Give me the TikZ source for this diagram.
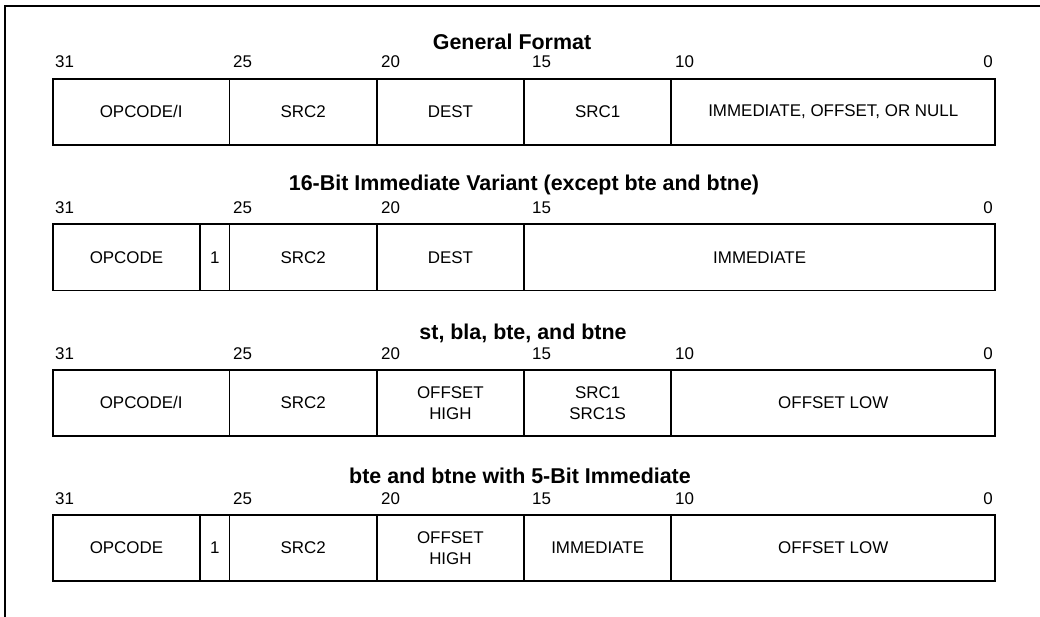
\documentclass[tikz,border=0pt]{standalone}
\usepackage{fontspec}
\setmainfont{Liberation Sans}
\tikzset{
  fieldbox/.style={draw, line width=1.7bp, minimum height=66bp, inner sep=0pt, align=center,
    font=\fontsize{17}{21}\selectfont},
  bitnum/.style={inner sep=0pt, font=\fontsize{17}{20}\selectfont},
  rowtitle/.style={inner sep=0pt, anchor=base, font=\bfseries\fontsize{21.5}{24}\selectfont},
  frameline/.style={line width=1.7bp},
}
\newcommand\bitfield[5]{% name, top y, msb, lsb, text
  \pgfmathsetmacro\bfx{52+(31-#3)*29.45}%
  \pgfmathsetmacro\bfw{(#3-#4+1)*29.45}%
  \node[fieldbox, minimum width=\bfw bp, anchor=north west] (#1) at (\bfx,#2) {#5};%
}
\newcommand\bitnums[2]{% prefix, baseline y ; set 31 25 20 15 0
  \node[bitnum, anchor=base west] (#1n31) at (55,#2) {31};
  \node[bitnum, anchor=base west] (#1n25) at (233,#2) {25};
  \node[bitnum, anchor=base west] (#1n20) at (381,#2) {20};
  \node[bitnum, anchor=base west] (#1n15) at (532,#2) {15};
  \node[bitnum, anchor=base east] (#1n0) at (993,#2) {0};
}
\begin{document}
\begin{tikzpicture}[x=1bp,y=-1bp]
\useasboundingbox (0,0) rectangle (1040,617);
% frame (top and left edges)
\draw[frameline] (5,617) -- (5,6) -- (1040,6);

% ---- Row 1: General Format
\node[rowtitle] (t1) at (512,50) {General Format};
\bitnums{a}{68}
\node[bitnum, anchor=base west] (an10) at (675,68) {10};
\bitfield{a1}{78}{31}{26}{OPCODE/I}
\bitfield{a2}{78}{25}{21}{SRC2}
\bitfield{a3}{78}{20}{16}{DEST}
\bitfield{a4}{78}{15}{11}{SRC1}
\bitfield{a5}{78}{10}{0}{IMMEDIATE, OFFSET, OR NULL}

% ---- Row 2: 16-Bit Immediate Variant
\node[rowtitle] (t2) at (524,191) {16-Bit Immediate Variant (except bte and btne)};
\bitnums{b}{213.5}
\bitfield{b1}{223.5}{31}{27}{OPCODE}
\bitfield{b2}{223.5}{26}{26}{1}
\bitfield{b3}{223.5}{25}{21}{SRC2}
\bitfield{b4}{223.5}{20}{16}{DEST}
\bitfield{b5}{223.5}{15}{0}{IMMEDIATE}

% ---- Row 3: st, bla, bte, and btne
\node[rowtitle] (t3) at (523,339) {st, bla, bte, and btne};
\bitnums{c}{359}
\node[bitnum, anchor=base west] (cn10) at (675,359) {10};
\bitfield{c1}{369}{31}{26}{OPCODE/I}
\bitfield{c2}{369}{25}{21}{SRC2}
\bitfield{c3}{369}{20}{16}{OFFSET\\HIGH}
\bitfield{c4}{369}{15}{11}{SRC1\\SRC1S}
\bitfield{c5}{369}{10}{0}{OFFSET LOW}

% ---- Row 4: bte and btne with 5-Bit Immediate
\node[rowtitle] (t4) at (520,483) {bte and btne with 5-Bit Immediate};
\bitnums{d}{504}
\node[bitnum, anchor=base west] (dn10) at (675,504) {10};
\bitfield{d1}{514}{31}{27}{OPCODE}
\bitfield{d2}{514}{26}{26}{1}
\bitfield{d3}{514}{25}{21}{SRC2}
\bitfield{d4}{514}{20}{16}{OFFSET\\HIGH}
\bitfield{d5}{514}{15}{11}{IMMEDIATE}
\bitfield{d6}{514}{10}{0}{OFFSET LOW}
\end{tikzpicture}
\end{document}
